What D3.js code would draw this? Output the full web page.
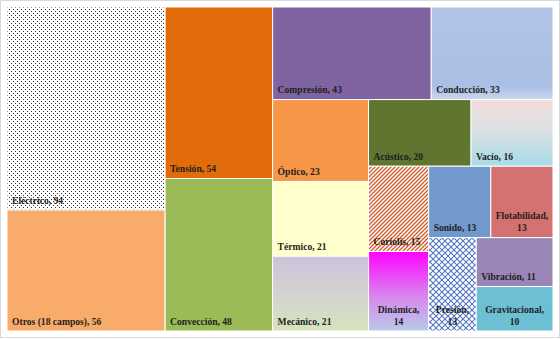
<!DOCTYPE html>
<html><head><meta charset="utf-8">
<script src="https://cdn.jsdelivr.net/npm/d3@7"></script>
<style>html,body{margin:0;padding:0;background:#fff;}svg{display:block;}</style>
</head><body>
<svg id="chart" width="560" height="339"></svg>
<script>
// ---- data ----
const categories = ["Eléctrico","Otros (18 campos)","Tensión","Convección","Compresión","Conducción","Óptico","Térmico","Mecánico","Acústico","Vacío","Coriolis","Dinámica","Sonido","Flotabilidad","Presión","Vibración","Gravitacional"];
const values = [94,56,54,48,43,33,23,21,21,20,16,15,14,13,13,13,11,10];

// ---- styles ----
const fills = ["url(#dots)","#F8AB6B","#E36C0A","#9BBB59","#8064A2","url(#gConduccion)","#F79646","#FFFFCC","url(#gMecanico)","#5F7530","url(#gVacio)","url(#stripes)","url(#gDinamica)","#7199CC","#D37270","url(#lattice)","#9A86B8","#6DBFD3"];
const stripSizes = [2,2,2,3,2,2,2,1,1,1]; // layout strips (Excel-like)

const svg = d3.select("#chart");
const defs = svg.append("defs");

function grad(id, stops){
  const g = defs.append("linearGradient").attr("id",id).attr("x1",0).attr("y1",0).attr("x2",0).attr("y2",1);
  stops.forEach(s=>g.append("stop").attr("offset",s[0]).attr("stop-color",s[1]));
}
grad("gConduccion",[[0,"#B2C5E7"],[0.85,"#AABFE5"],[1,"#C8D5EE"]]);
grad("gMecanico",[[0,"#CCC2DB"],[0.5,"#D2D2CF"],[1,"#D7E4BD"]]);
grad("gVacio",[[0,"#F2DCDB"],[0.45,"#DCE1E4"],[1,"#A6DBE6"]]);
grad("gDinamica",[[0,"#FF00FF"],[0.55,"#D884EE"],[1,"#B8CCE6"]]);

// dotted pattern
const pd = defs.append("pattern").attr("id","dots").attr("patternUnits","userSpaceOnUse").attr("width",4).attr("height",4);
pd.append("rect").attr("width",4).attr("height",4).attr("fill","#fff");
pd.append("rect").attr("x",0).attr("y",0).attr("width",1).attr("height",1).attr("fill","#333");
pd.append("rect").attr("x",2).attr("y",2).attr("width",1).attr("height",1).attr("fill","#333");

// diagonal stripes
const ps = defs.append("pattern").attr("id","stripes").attr("patternUnits","userSpaceOnUse").attr("width",4).attr("height",4);
ps.append("rect").attr("width",4).attr("height",4).attr("fill","#fff");
ps.append("path").attr("d","M-1,1 L1,-1 M0,4 L4,0 M3,5 L5,3").attr("stroke","#D05A2A").attr("stroke-width",1.3);

// lattice
const pl = defs.append("pattern").attr("id","lattice").attr("patternUnits","userSpaceOnUse").attr("width",6).attr("height",6);
pl.append("rect").attr("width",6).attr("height",6).attr("fill","#fff");
pl.append("path").attr("d","M0,0 L6,6 M6,0 L0,6").attr("stroke","#5575C0").attr("stroke-width",1.1);

// outer frame
svg.append("rect").attr("x",0.5).attr("y",0.5).attr("width",559).attr("height",337)
  .attr("fill","#fff").attr("stroke","#D9D9D9").attr("stroke-width",1);

// ---- layout ----
function excelTile(parent, x0, y0, x1, y1){
  const nodes = parent.children;
  let i = 0, k = 0, total = parent.value;
  while (i < nodes.length){
    const n = stripSizes[k++] || (nodes.length - i);
    const row = nodes.slice(i, i+n);
    const v = d3.sum(row, d=>d.value);
    const w = x1-x0, h = y1-y0;
    const strip = {children: row, value: v};
    if (w >= h){
      const x = x0 + w*v/total;
      d3.treemapSlice(strip, x0, y0, x, y1);
      x0 = x;
    } else {
      const y = y0 + h*v/total;
      d3.treemapDice(strip, x0, y0, x1, y);
      y0 = y;
    }
    total -= v; i += n;
  }
}

const data = categories.map((c,i)=>({name:c, value:values[i], fill:fills[i]}));
const root = d3.hierarchy({children:data}).sum(d=>d.value||0);
d3.treemap().size([546,324]).tile(excelTile).round(false)(root);

const g = svg.append("g").attr("transform","translate(7,7)");
const cells = g.selectAll("g.cell").data(root.leaves()).join("g").attr("class","cell");
cells.append("rect")
  .attr("x",d=>d.x0).attr("y",d=>d.y0)
  .attr("width",d=>d.x1-d.x0).attr("height",d=>d.y1-d.y0)
  .attr("fill",d=>d.data.fill)
  .attr("stroke","#fff").attr("stroke-width",1);

const font = "'Liberation Serif','Times New Roman',serif";
cells.each(function(d){
  const sel = d3.select(this);
  const label = d.data.name + ", " + d.data.value;
  const t = sel.append("text").attr("font-family",font).attr("font-weight","bold")
    .attr("font-size","9.6px").attr("fill","#1f1f1f")
    .attr("x",d.x0+5).attr("y",d.y1-6.5).text(label);
  const w = t.node().getComputedTextLength();
  if (w > (d.x1-d.x0) - 10){
    const cx = (d.x0+d.x1)/2;
    t.text(null).attr("text-anchor","middle");
    t.append("tspan").attr("x",cx).attr("y",d.y1-18.5).text(d.data.name+",");
    t.append("tspan").attr("x",cx).attr("y",d.y1-6.5).text(d.data.value);
  }
});
</script>
</body></html>
